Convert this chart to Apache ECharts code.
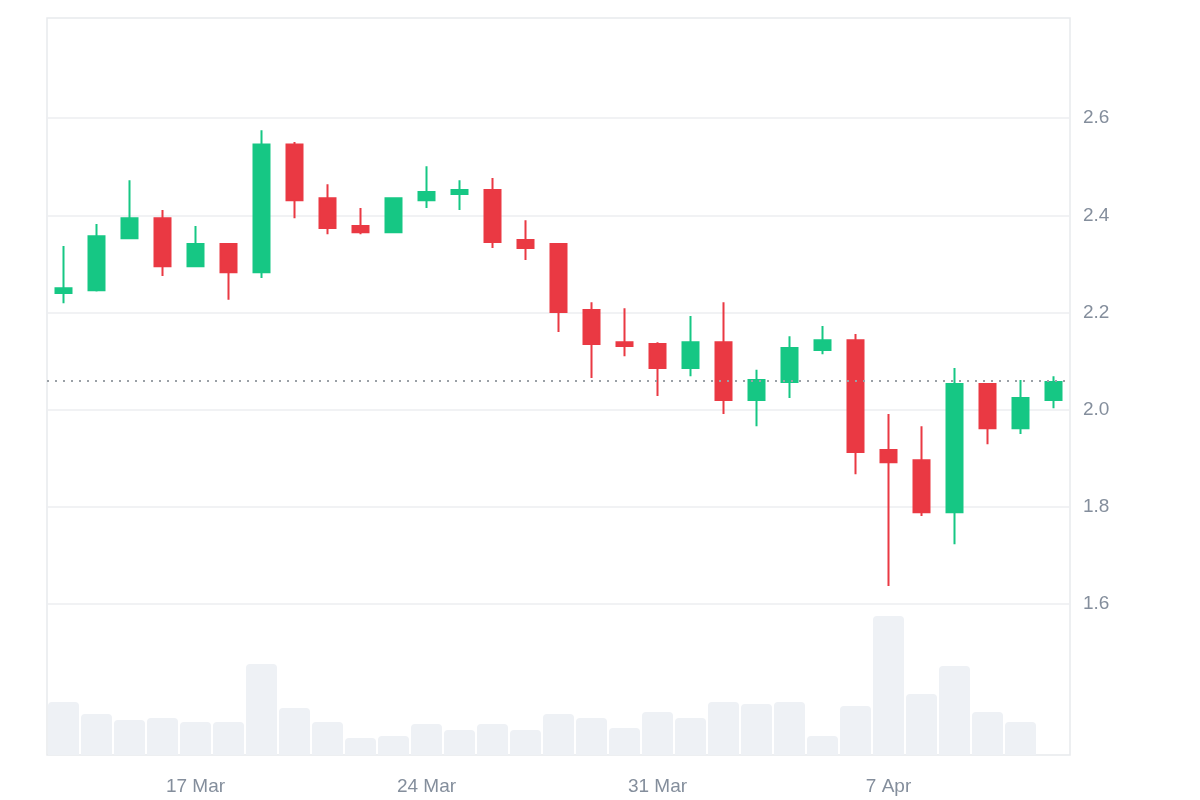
<!DOCTYPE html>
<html><head><meta charset="utf-8">
<script src="https://cdn.jsdelivr.net/npm/echarts@6/dist/echarts.min.js"></script>
<style>html,body{margin:0;padding:0;background:#fff}#c{width:1200px;height:800px}</style>
</head><body><div id="c"></div>
<script>
const dates = ['13 Mar','14 Mar','15 Mar','16 Mar','17 Mar','18 Mar','19 Mar','20 Mar','21 Mar','22 Mar','23 Mar','24 Mar','25 Mar','26 Mar','27 Mar','28 Mar','29 Mar','30 Mar','31 Mar','1 Apr','2 Apr','3 Apr','4 Apr','5 Apr','6 Apr','7 Apr','8 Apr','9 Apr','10 Apr','11 Apr','12 Apr'];
const opens  = [2.240,2.246,2.353,2.394,2.295,2.341,2.283,2.546,2.435,2.378,2.365,2.431,2.444,2.452,2.349,2.341,2.205,2.139,2.135,2.086,2.139,2.020,2.057,2.123,2.143,1.917,1.896,1.789,2.053,1.962,2.020];
const closes = [2.250,2.357,2.394,2.295,2.341,2.283,2.546,2.431,2.374,2.365,2.435,2.448,2.452,2.345,2.333,2.201,2.135,2.131,2.086,2.139,2.020,2.061,2.127,2.143,1.913,1.892,1.789,2.053,1.962,2.024,2.057];
const lows   = [2.219,2.243,2.353,2.275,2.295,2.226,2.271,2.394,2.361,2.361,2.365,2.415,2.411,2.333,2.308,2.160,2.065,2.110,2.028,2.069,1.991,1.966,2.024,2.114,1.867,1.637,1.781,1.723,1.929,1.950,2.003];
const highs  = [2.337,2.382,2.472,2.411,2.378,2.341,2.575,2.551,2.464,2.415,2.435,2.501,2.472,2.477,2.390,2.341,2.221,2.209,2.139,2.193,2.221,2.082,2.151,2.172,2.156,1.991,1.966,2.086,2.053,2.061,2.069];
const volumes = [53,41,35,37,33,33,91,47,33,17,19,31,25,31,25,41,37,27,43,37,53,51,53,19,49,139,61,89,43,33,'-'];
const lastPrice = 2.057;
const labelDays = ['17 Mar','24 Mar','31 Mar','7 Apr'];

const up='#16c784', down='#ea3943', txt='#848e9c', grid='#eceef1';
const candles = dates.map((d,i)=>[opens[i],closes[i],lows[i],highs[i]]);
const chart = echarts.init(document.getElementById('c'));
chart.setOption({
  animation:false,
  grid:[
    {left:47,right:130,top:21,bottom:196},
    {left:47,right:130,top:18,bottom:45,show:true,borderColor:'#e8eaed',borderWidth:1.5,backgroundColor:'transparent'}
  ],
  xAxis:[
    {type:'category',data:dates,gridIndex:0,show:false},
    {type:'category',data:dates,gridIndex:1,axisLine:{show:false},axisTick:{show:false},
     axisLabel:{color:txt,fontSize:19,fontFamily:'Liberation Sans, Arial, sans-serif',margin:22,
       interval:(i,v)=>labelDays.includes(v)}}
  ],
  yAxis:[
    {type:'value',gridIndex:0,position:'right',min:1.6,max:2.8,interval:0.2,
     axisLine:{show:false},axisTick:{show:false},
     axisLabel:{color:txt,fontSize:19,fontFamily:'Liberation Sans, Arial, sans-serif',margin:13,
       formatter:v=>v>2.7?'':v.toFixed(1)},
     splitLine:{lineStyle:{color:[grid,grid,grid,grid,grid,grid,'rgba(0,0,0,0)'],width:1.5}}},
    {type:'value',gridIndex:1,min:0,max:737,show:false,splitLine:{show:false}}
  ],
  series:[
    {type:'bar',xAxisIndex:1,yAxisIndex:1,data:volumes,barWidth:'94%',
     itemStyle:{color:'#eef1f5',borderRadius:[4,4,0,0]},z:1},
    {type:'candlestick',xAxisIndex:0,yAxisIndex:0,data:candles,barWidth:17,z:3,
     itemStyle:{color:up,color0:down,borderColor:up,borderColor0:down,borderWidth:2},
     markLine:{symbol:'none',silent:true,label:{show:false},
       lineStyle:{color:'#9aa0a6',type:[2,6],width:2},
       data:[{yAxis:lastPrice}]}}
  ]
});
</script></body></html>
